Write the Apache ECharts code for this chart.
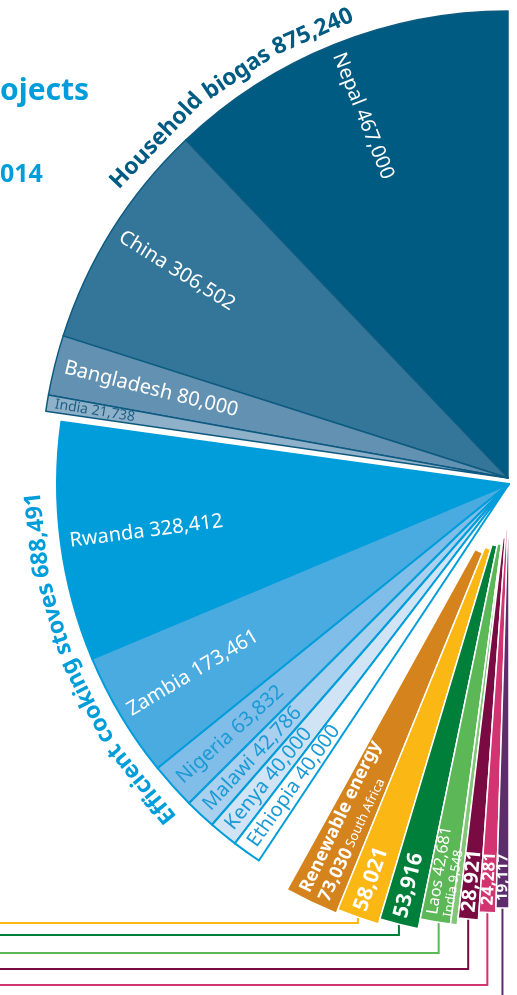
<!DOCTYPE html>
<html>
<head>
<meta charset="utf-8">
<title>Projects</title>
<script src="https://cdn.jsdelivr.net/npm/echarts@6.0.0/dist/echarts.min.js"></script>
<style>
  html, body { margin: 0; padding: 0; background: #ffffff; }
  #main { width: 517px; height: 995px; }
</style>
</head>
<body>
<div id="main"></div>
<script>
// household biogas, by country
var biogasCountries = ['Nepal', 'China', 'Bangladesh', 'India'];
var biogasValues = [467000, 306502, 80000, 21738];

// efficient cooking stoves, by country
var stoveCountries = ['Rwanda', 'Zambia', 'Nigeria', 'Malawi', 'Kenya', 'Ethiopia'];
var stoveValues = [328412, 173461, 63832, 42786, 40000, 40000];

// smaller project types (their legend sits outside this crop)
var otherNames = ['South Africa', 'Type E', 'Type F', 'Laos', 'India', 'Type H', 'Type I', 'Type J'];
var otherValues = [73030, 58021, 53916, 42681, 9548, 28921, 24281, 19117];

var groupNames = ['Household biogas', 'Efficient cooking stoves', 'Renewable energy'];

// ---- styling ----
var FONT = '"Noto Sans", sans-serif';
var BLUE = '#009ddb';
var DARK = '#005b82';
var biogasColors = ['#005b82', '#347699', '#6391b2', '#8fb0c9'];
var stoveColors = ['#009ddb', '#4aabe1', '#80bde8', '#a9d0ef', '#d0e4f5', '#ffffff'];
var otherColors = ['#d5831c', '#fbb714', '#007f3a', '#5cb857', '#83c67a', '#7a0b42', '#d13470', '#5c2d6a'];
var otherRing = [2, 3, 4, 5, 5, 6, 7, 8];
var leaderY = [null, 923, 935, 953, 969, 985, 1005]; // for rings 2..8

// one pie per outer radius, every pie holds all slices so the angles line up
var rings = [
  { center: [508, 478], radius: [0, 467], border: '#0d5a80', borderWidth: 1.5 },
  { center: [509, 484], radius: [0, 452], border: BLUE, borderWidth: 2 },
  { center: [509, 488], radius: [70, 459], border: '#fff', borderWidth: 1.5 },
  { center: [509, 488], radius: [64, 455], border: '#fff', borderWidth: 1.5 },
  { center: [509, 488], radius: [59, 450], border: '#fff', borderWidth: 1.5 },
  { center: [509, 488], radius: [57, 440], border: '#fff', borderWidth: 1.5 },
  { center: [509, 488], radius: [50, 433], border: '#fff', borderWidth: 1.5 },
  { center: [509, 488], radius: [41, 425], border: '#fff', borderWidth: 1.5 },
  { center: [509, 488], radius: [36, 420], border: '#fff', borderWidth: 1.5 }
];
var GAP_1 = 3000, GAP_2 = 50000; // blank wedges between groups

function fmt(v) { return v.toLocaleString('en-US'); }
function sum(a) { return a.reduce(function (s, v) { return s + v; }, 0); }

var slices = [];
biogasCountries.forEach(function (c, i) {
  var tiny = i === 3;
  slices.push({
    name: c, value: biogasValues[i], ring: 0, color: biogasColors[i], margin: tiny ? 8 : 10,
    label: { formatter: c + ' ' + fmt(biogasValues[i]), color: tiny ? '#1d5f86' : '#fff', fontSize: tiny ? 14 : 20, fontFamily: FONT }
  });
});
slices.push({ name: '', value: GAP_1, ring: -1 });
stoveCountries.forEach(function (c, i) {
  slices.push({
    name: c, value: stoveValues[i], ring: 1, color: stoveColors[i], margin: 9,
    label: { formatter: c + ' ' + fmt(stoveValues[i]), color: i < 2 ? '#fff' : '#1a9ad6', fontSize: 20, fontFamily: FONT }
  });
});
slices.push({ name: '', value: GAP_2, ring: -1 });

function bold(v, size) {
  return { formatter: fmt(v), color: '#fff', fontSize: size, fontWeight: 'bold', fontFamily: FONT };
}
var otherLabels = [
  {
    formatter: '{bd|' + groupNames[2] + '}\n{bd|' + fmt(otherValues[0]) + '} {sm|' + otherNames[0] + '}',
    color: '#fff', fontFamily: FONT,
    rich: {
      bd: { color: '#fff', fontFamily: FONT, fontWeight: 'bold', fontSize: 18, lineHeight: 21 },
      sm: { color: '#fff', fontFamily: FONT, fontSize: 13, lineHeight: 21 }
    }
  },
  bold(otherValues[1], 21),
  bold(otherValues[2], 21),
  {
    formatter: '{m|' + otherNames[3] + ' ' + fmt(otherValues[3]) + '}\n{n|' + otherNames[4] + ' ' + fmt(otherValues[4]) + '}',
    color: '#fff', fontFamily: FONT,
    rich: {
      m: { color: '#fff', fontFamily: FONT, fontSize: 16, lineHeight: 17 },
      n: { color: '#fff', fontFamily: FONT, fontSize: 13, lineHeight: 15 }
    }
  },
  null,
  bold(otherValues[5], 20),
  bold(otherValues[6], 17),
  bold(otherValues[7], 15)
];
otherNames.forEach(function (c, i) {
  slices.push({ name: c, value: otherValues[i], ring: otherRing[i], color: otherColors[i], margin: 7, label: otherLabels[i] });
});

// angles (degrees, counter-clockwise from east), same rule the pie uses
var TOTAL = sum(slices.map(function (d) { return d.value; }));
var acc = 0;
slices.forEach(function (d) {
  d.start = 90 + acc / TOTAL * 180;
  acc += d.value;
  d.end = 90 + acc / TOTAL * 180;
  d.mid = (d.start + d.end) / 2;
  d.labelAngle = d.mid;
});
// Laos and India share one bar label and one leader line
var laos = slices[slices.length - 5], indiaSmall = slices[slices.length - 4];
laos.labelAngle = (laos.start + indiaSmall.end) / 2;

function polar(center, r, deg) {
  var a = deg * Math.PI / 180;
  return [center[0] + r * Math.cos(a), center[1] - r * Math.sin(a)];
}

var series = rings.map(function (ring, k) {
  return {
    type: 'pie',
    silent: true,
    center: ring.center,
    radius: ring.radius,
    startAngle: 90,
    endAngle: 270,
    clockwise: false,
    avoidLabelOverlap: false,
    emphasis: { disabled: true },
    label: { show: false, position: 'inside' },
    labelLine: { show: false },
    labelLayout: function (p) {
      var d = slices[p.dataIndex];
      if (!d || d.ring !== k || !d.label) return {};
      var pt = polar(ring.center, ring.radius[1] - d.margin, d.labelAngle);
      return { x: pt[0], y: pt[1], rotate: d.labelAngle - 180, align: 'left', verticalAlign: 'middle' };
    },
    data: slices.map(function (d) {
      var mine = d.ring === k;
      return {
        name: d.name,
        value: d.value,
        itemStyle: mine
          ? { color: d.color, borderColor: ring.border, borderWidth: ring.borderWidth }
          : { color: 'rgba(0,0,0,0)', borderWidth: 0 },
        label: mine && d.label
          ? Object.assign({ show: true, position: 'inside' }, d.label)
          : { show: false }
      };
    })
  };
});

// group titles written along the rim, word by word
var measureCtx = document.createElement('canvas').getContext('2d');
function arcText(text, center, r, midDeg, font, color) {
  measureCtx.font = font;
  var total = measureCtx.measureText(text).width;
  var out = [];
  var pos = 0;
  text.split(' ').forEach(function (w) {
    var off = measureCtx.measureText(text.slice(0, pos)).width;
    var ww = measureCtx.measureText(w).width;
    var s = off + ww / 2 - total / 2;
    var deg = midDeg - s / r * 180 / Math.PI;
    var pt = polar(center, r, deg);
    out.push({
      type: 'text', silent: true, x: pt[0], y: pt[1], rotation: (deg - 90) * Math.PI / 180,
      style: { text: w, font: font, fill: color, textAlign: 'center', textVerticalAlign: 'middle' }
    });
    pos += w.length + 1;
  });
  return out;
}

var graphics = [];
graphics = graphics.concat(arcText(groupNames[0] + ' ' + fmt(sum(biogasValues)), rings[0].center, 487, 126,
  'bold 23px ' + FONT, DARK));
graphics = graphics.concat(arcText(groupNames[1] + ' ' + fmt(sum(stoveValues)), rings[1].center, 474, 203,
  'bold 23px ' + FONT, BLUE));

// leader lines from the small bars to the (cropped) legend on the left
for (var k = 3; k <= 8; k++) {
  var ring = rings[k];
  var members = slices.filter(function (d) { return d.ring === k; });
  var ang = (members[0].start + members[members.length - 1].end) / 2;
  var p0 = polar(ring.center, ring.radius[1], ang);
  var ly = leaderY[k - 2];
  var pts = k === 8 ? [[p0[0], p0[1]], [p0[0], ly]] : [[p0[0], p0[1]], [p0[0], ly], [-5, ly]];
  graphics.push({
    type: 'polyline', silent: true, z: 1,
    shape: { points: pts },
    style: { stroke: members[0].color, lineWidth: 2, fill: null }
  });
}

// cropped headline
graphics.push({
  type: 'text', silent: true, x: 0, y: 91,
  style: { text: 'ojects', font: 'bold 30px ' + FONT, fill: BLUE, textAlign: 'left', textVerticalAlign: 'middle' }
});
graphics.push({
  type: 'text', silent: true, x: 0, y: 175,
  style: { text: '014', font: 'bold 25px ' + FONT, fill: BLUE, textAlign: 'left', textVerticalAlign: 'middle' }
});

var chart = echarts.init(document.getElementById('main'));
chart.setOption({
  animation: false,
  graphic: { elements: graphics },
  series: series
});
</script>
</body>
</html>
